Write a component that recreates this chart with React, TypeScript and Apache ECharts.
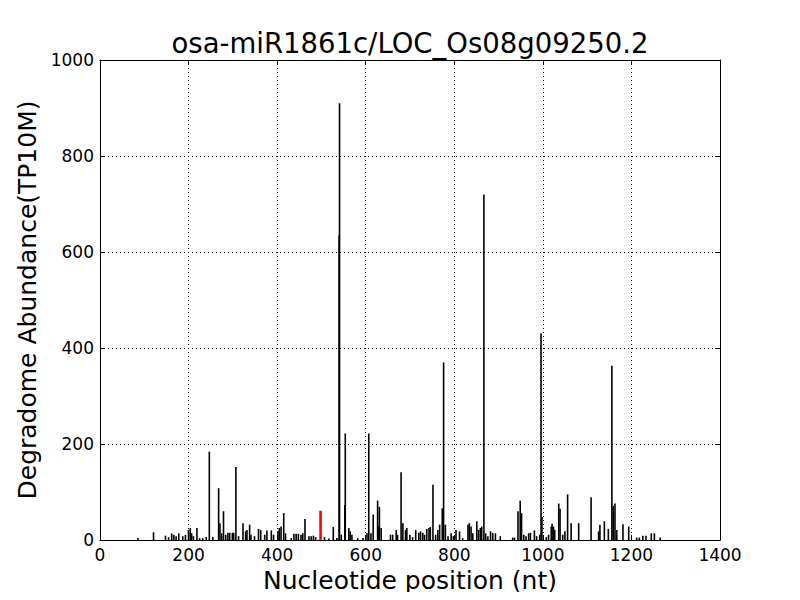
import React, { useEffect, useRef } from "react";
import * as echarts from "echarts";

// Nucleotide positions (nt) and degradome abundance (TP10M)
const positions = [
  87, 122, 149, 156, 163, 168, 173, 179, 188, 194, 201, 205, 208, 212, 220, 226, 233, 241, 248, 256,
  269, 272, 276, 280, 285, 290, 294, 300, 303, 308, 314, 324, 330, 333, 339, 342, 350, 359,
  364, 373, 378, 388, 393, 403, 406, 410, 416, 420, 433, 439, 444, 449, 455, 459, 464, 473, 478,
  483, 488, 508, 518, 528, 536, 541, 542, 546, 554, 555, 563, 566, 570, 583, 595, 604, 608, 613,
  618, 628, 630, 632, 636, 657, 662, 670, 673, 681, 685, 691, 694, 701, 707, 714, 721, 725, 730,
  734, 739, 744, 747, 753, 759, 764, 768, 774, 777, 781, 787, 794, 799, 805, 813, 820, 832, 835,
  839, 843, 852, 856, 860, 863, 868, 872, 877, 883, 888, 894, 905, 933, 937, 945, 950, 953, 958,
  963, 969, 973, 982, 987, 994, 997, 999, 1009, 1014, 1020, 1022, 1025, 1028, 1037, 1040, 1046,
  1051, 1057, 1065, 1082, 1110, 1127, 1130, 1140, 1149, 1157, 1160, 1164, 1168, 1182, 1195, 1213,
  1219, 1227, 1234, 1246, 1253, 1266,
];
const abundances = [
  4, 16, 9, 6, 14, 11, 8, 14, 8, 11, 21, 25, 14, 8, 25, 4, 4, 6, 184, 6,
  108, 35, 14, 60, 11, 15, 15, 15, 15, 152, 8, 35, 18, 21, 32, 11, 8, 23,
  21, 11, 20, 20, 11, 18, 25, 28, 56, 14, 4, 13, 13, 13, 11, 14, 44, 8, 8,
  9, 6, 6, 3, 27, 4, 635, 910, 11, 73, 222, 25, 18, 11, 4, 4, 14, 222, 14,
  53, 82, 28, 69, 25, 11, 11, 21, 11, 141, 35, 21, 25, 11, 6, 21, 15, 18, 15,
  11, 23, 25, 27, 115, 11, 21, 32, 66, 370, 32, 8, 14, 8, 21, 18, 4, 32, 35,
  28, 14, 39, 21, 25, 28, 720, 14, 8, 18, 15, 14, 8, 5, 5, 60, 82, 56, 11,
  8, 14, 15, 20, 8, 11, 430, 48, 6, 11, 28, 34, 28, 21, 76, 65, 11,
  18, 95, 35, 35, 89, 18, 32, 39, 23, 363, 71, 76, 21, 33, 28, 5,
  5, 9, 9, 14, 14, 5,
];
// miRNA cleavage site (red)
const sitePositions = [498];
const siteAbundances = [61];

const titleText = "osa-miR1861c/LOC_Os08g09250.2";
const xName = "Nucleotide position (nt)";
const yName = "Degradome Abundance(TP10M)";

const FONT = "DejaVu Sans";

export default function App() {
  const ref = useRef<HTMLDivElement>(null);
  useEffect(() => {
    if (!ref.current) return;
    const chart = echarts.init(ref.current, null, { renderer: "svg" });
    const axisCommon = {
      type: "value" as const,
      axisLine: { show: true, onZero: false, lineStyle: { color: "#000", width: 1 } },
      axisTick: { show: true, inside: true, length: 5, lineStyle: { color: "#000", width: 1 } },
    };
    const labelStyle = {
      color: "#000",
      fontFamily: FONT,
      fontSize: 17,
      margin: 6,
      formatter: (v: number) => String(v),
    };
    chart.setOption({
      animation: false,
      backgroundColor: "#fff",
      grid: { left: 100, right: 80, top: 60, bottom: 60, containLabel: false },
      graphic: [
        {
          type: "text",
          x: 410,
          y: 43,
          style: {
            text: titleText,
            fontFamily: FONT,
            fontSize: 27.5,
            fill: "#000",
            textAlign: "center",
            textVerticalAlign: "middle",
          },
        },
      ],
      xAxis: [
        {
          ...axisCommon,
          position: "bottom",
          min: 0,
          max: 1400,
          interval: 200,
          axisLabel: labelStyle,
          splitLine: { show: true, lineStyle: { color: "#000", type: [1, 3], width: 1 } },
          name: xName,
          nameLocation: "middle",
          nameGap: 28,
          nameTextStyle: { color: "#000", fontFamily: FONT, fontSize: 25 },
        },
        {
          ...axisCommon,
          position: "top",
          min: 0,
          max: 1400,
          interval: 200,
          axisLabel: { show: false },
          splitLine: { show: false },
        },
      ],
      yAxis: [
        {
          ...axisCommon,
          position: "left",
          min: 0,
          max: 1000,
          interval: 200,
          axisLabel: labelStyle,
          splitLine: { show: true, lineStyle: { color: "#000", type: [1, 3], width: 1 } },
          name: yName,
          nameLocation: "middle",
          nameGap: 53,
          nameTextStyle: { color: "#000", fontFamily: FONT, fontSize: 25 },
        },
        {
          ...axisCommon,
          position: "right",
          min: 0,
          max: 1000,
          interval: 200,
          axisLabel: { show: false },
          splitLine: { show: false },
        },
      ],
      series: [
        {
          type: "bar",
          xAxisIndex: 0,
          yAxisIndex: 0,
          barWidth: 1.6,
          barGap: "-100%",
          itemStyle: { color: "#000" },
          data: positions.map((p, i) => [p, abundances[i]]),
        },
        {
          type: "bar",
          xAxisIndex: 0,
          yAxisIndex: 0,
          barWidth: 2.6,
          barGap: "-100%",
          itemStyle: { color: "#ff0000" },
          data: sitePositions.map((p, i) => [p, siteAbundances[i]]),
        },
      ],
    });
    return () => chart.dispose();
  }, []);
  return <div ref={ref} style={{ width: 800, height: 600, margin: -8 }} />;
}
